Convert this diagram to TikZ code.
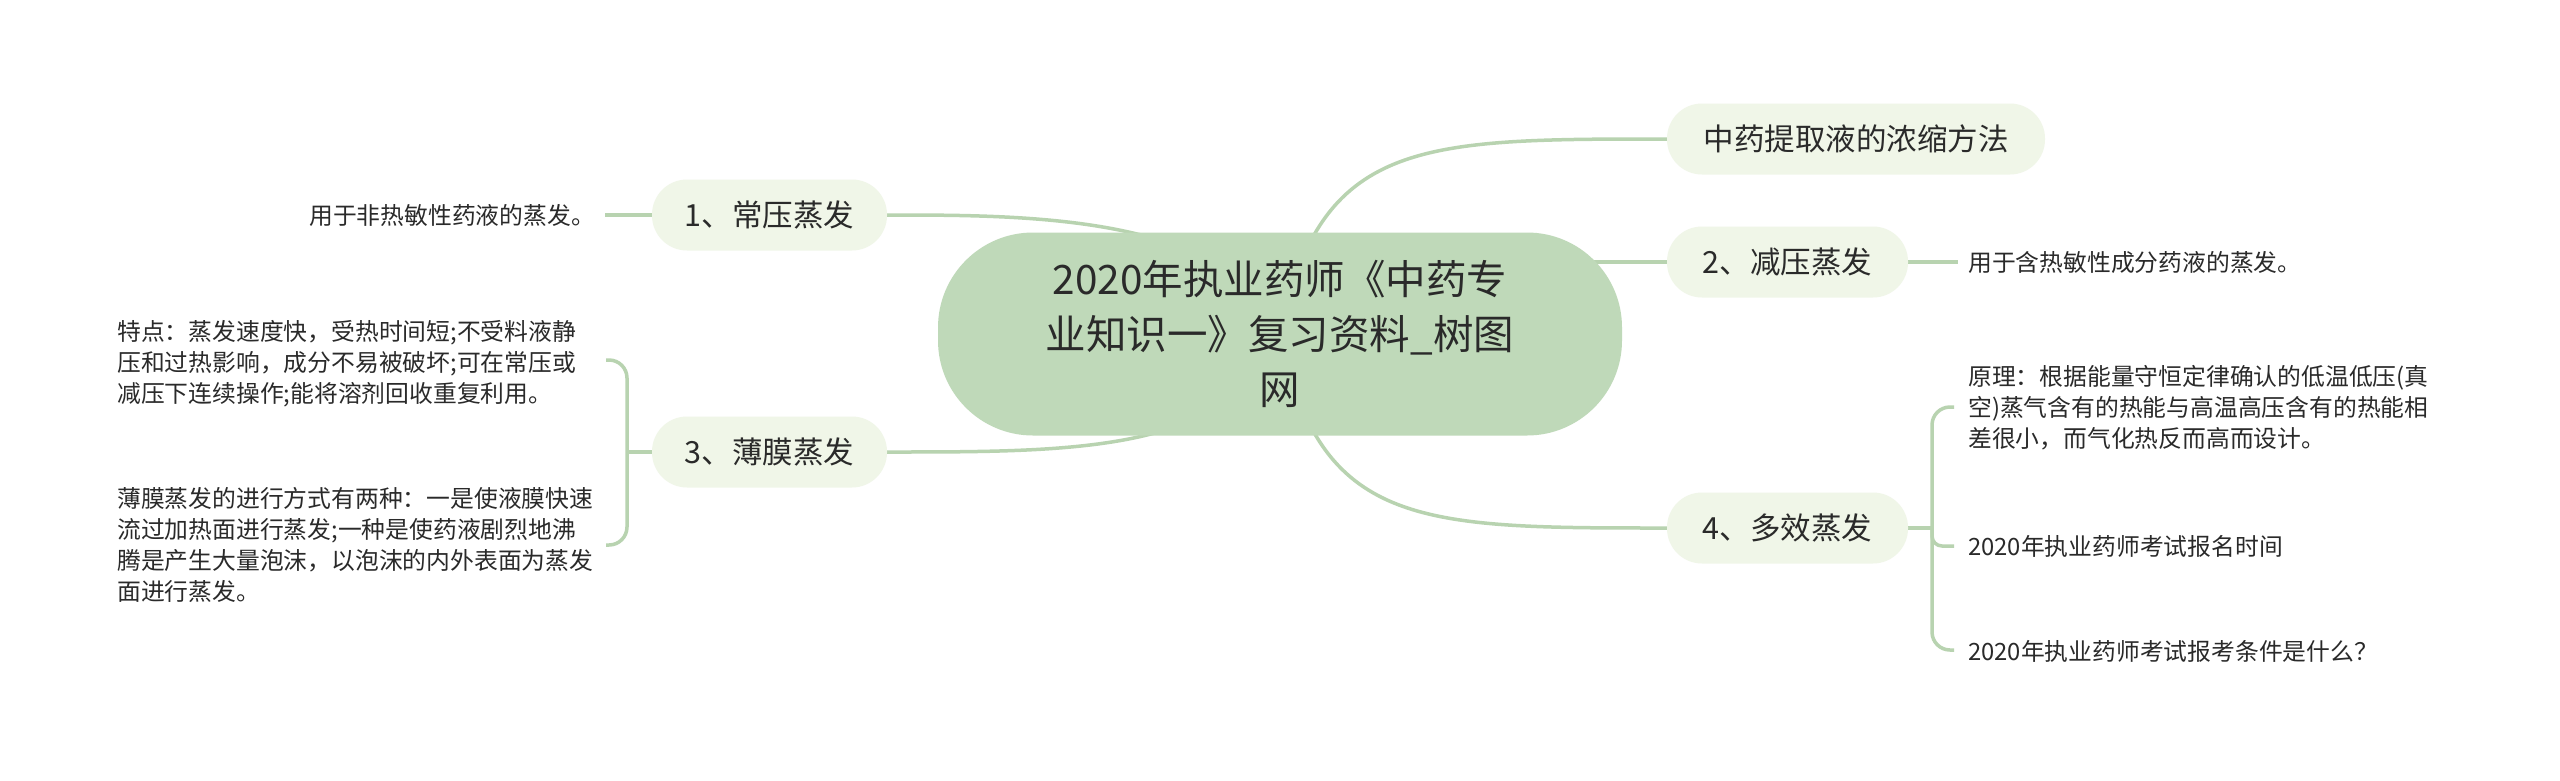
\documentclass[tikz,border=0pt]{standalone}
\usepackage{fontspec}
\newfontfamily\cjk{Noto Sans CJK SC}
\usetikzlibrary{backgrounds}
\definecolor{linec}{HTML}{B8D3B0}
\definecolor{mainfill}{HTML}{BFD9B9}
\definecolor{subfill}{HTML}{F0F6E8}
\definecolor{txt}{HTML}{2A2A2A}
\begin{document}
\begin{tikzpicture}[x=1pt,y=-1pt,
 conn/.style={draw=linec,line width=3.5pt},
 root/.style={fill=mainfill, rounded corners=95pt, minimum width=684pt, minimum height=203pt, align=center, font=\cjk\fontsize{40.5}{55}\selectfont, text=txt, inner sep=0pt},
 topic/.style={fill=subfill, rounded corners=35pt, minimum height=71pt, inner sep=0pt, font=\cjk\fontsize{30.5}{36}\selectfont, text=txt},
 leaf/.style={inner xsep=10pt, inner ysep=4pt, font=\cjk\fontsize{23.8}{31}\selectfont, text=txt, align=left}]
\useasboundingbox (0,0) rectangle (2560,780);

\node[root] (c) at (1280,334) {2020年执业药师《中药专\\业知识一》复习资料\_树图\\网};

\node[topic, minimum width=378pt] (t0) at (1856,139) {中药提取液的浓缩方法};
\node[topic, minimum width=241pt] (t2) at (1787.5,262) {2、减压蒸发};
\node[topic, minimum width=241pt] (t4) at (1787.5,528) {4、多效蒸发};
\node[topic, minimum width=235pt] (t1) at (769.5,215) {1、常压蒸发};
\node[topic, minimum width=235pt] (t3) at (769.5,452) {3、薄膜蒸发};

\node[leaf, anchor=east] (l1) at (605,215) {用于非热敏性药液的蒸发。};
\node[leaf, anchor=west] (l2) at (1958,262) {用于含热敏性成分药液的蒸发。};
\node[leaf, anchor=west] (a3) at (107,364) {特点：蒸发速度快，受热时间短;不受料液静\\压和过热影响，成分不易被破坏;可在常压或\\减压下连续操作;能将溶剂回收重复利用。};
\node[leaf, anchor=west] (b3) at (107,545) {薄膜蒸发的进行方式有两种：一是使液膜快速\\流过加热面进行蒸发;一种是使药液剧烈地沸\\腾是产生大量泡沫，以泡沫的内外表面为蒸发\\面进行蒸发。};
\node[leaf, anchor=west] (r1) at (1958,408) {原理：根据能量守恒定律确认的低温低压(真\\空)蒸气含有的热能与高温高压含有的热能相\\差很小，而气化热反而高而设计。};
\node[leaf, anchor=west] (r2) at (1958,546) {2020年执业药师考试报名时间};
\node[leaf, anchor=west] (r3) at (1958,651) {2020年执业药师考试报考条件是什么？};

\coordinate (ja) at (606,360);
\coordinate (jb) at (606,545);
\coordinate (j3) at (627,452);
\coordinate (j4) at (1932,528);
\coordinate (e1) at (1954,407);
\coordinate (e2) at (1954,546);
\coordinate (e3) at (1954,650);

\begin{scope}[on background layer]
\fill[white] (0,0) rectangle (2560,780);
\draw[conn] (c.center) .. controls (1320,139) and (1420,139) .. (t0.west);
\draw[conn] (c.center) .. controls (1320,528) and (1420,528) .. (t4.west);
\draw[conn] (c.center |- t2.west) -- (t2.west);
\draw[conn] (c.center) .. controls (1230,215) and (1030,215) .. (t1.east);
\draw[conn] (c.center) .. controls (1230,452) and (1080,452) .. (t3.east);
\draw[conn] (l1.east) -- (t1.west);
\draw[conn] (t2.east) -- (l2.west);
\draw[conn] (t3.west) -- (j3);
\draw[conn, rounded corners=18pt] (ja) -- (ja -| j3) -- (jb -| j3) -- (jb);
\draw[conn] (t4.east) -- (j4);
\draw[conn, rounded corners=18pt] (e1) -- (e1 -| j4) -- (e3 -| j4) -- (e3);
\draw[conn, rounded corners=10pt] (j4) -- (e2 -| j4) -- (e2);
\end{scope}
\end{tikzpicture}
\end{document}
